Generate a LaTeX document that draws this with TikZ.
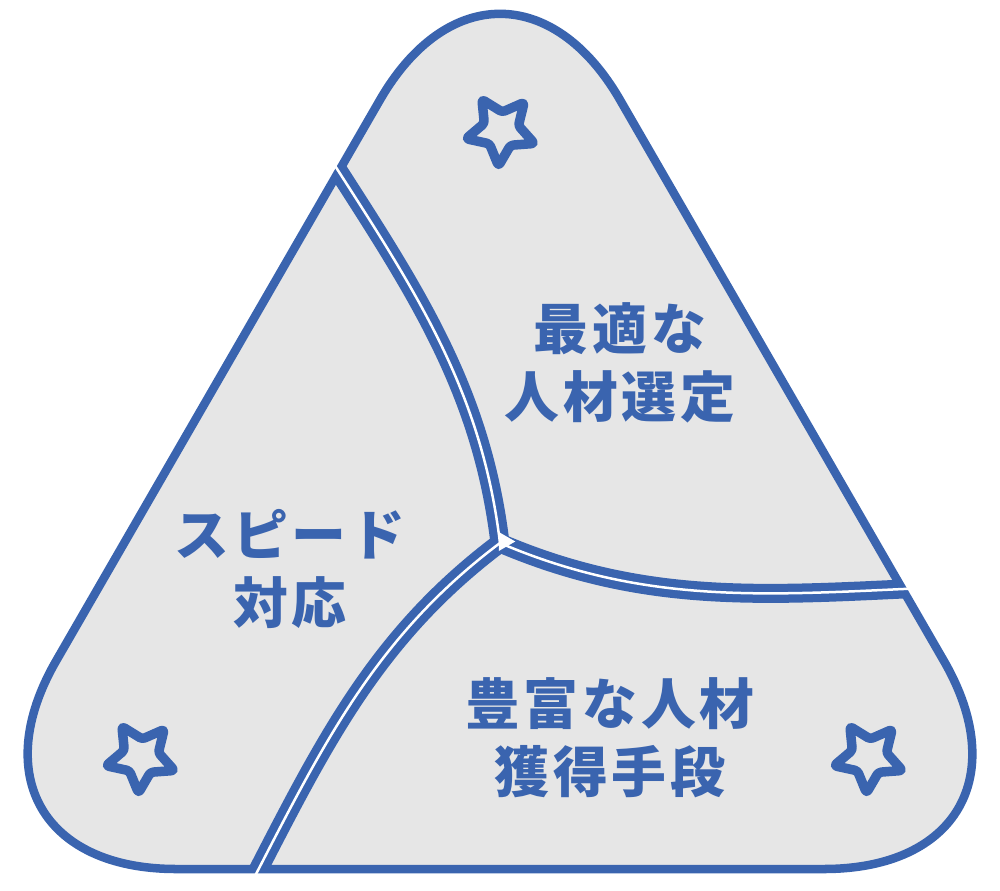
\documentclass[tikz,border=0pt]{standalone}
\usepackage{fontspec}
\newfontfamily\jpfont{Noto Sans CJK JP}[LetterSpace=7]
\usepackage{tikz}

\definecolor{deepblue}{RGB}{58,100,175}
\definecolor{panelgray}{RGB}{230,230,230}

\tikzset{
  outline/.style={draw=deepblue, line width=0.085cm, rounded corners=2.4cm},
  sepline/.style={draw=deepblue, line width=0.19cm, line cap=round},
  sepgap/.style={draw=white, line width=0.025cm},
  starline/.style={draw=deepblue, line width=0.095cm, line join=round, rounded corners=0.03cm},
  lbl/.style={text=deepblue, align=center, font=\jpfont\bfseries\fontsize{15.6pt}{19.4pt}\selectfont}
}

\begin{document}
\begin{tikzpicture}[x=0.01cm, y=0.01cm]
\useasboundingbox (0,0) rectangle (1000,890);

% Rounded triangle background
\path[fill=panelgray, rounded corners=2.4cm] (500,21) -- (1064,21) -- (500,998) -- (-64,21) -- cycle;

% Three curved dividers (blue band)
\begin{scope}
  \clip[rounded corners=2.4cm] (500,21) -- (1064,21) -- (500,998) -- (-64,21) -- cycle;
  \foreach \a in {0,-120,-240}
    \draw[sepline, rotate around={\a:(500,347)}] (331,731) -- (339,718) .. controls (420,592) and (482,495.5) .. (500,347);
\end{scope}

% Outer border
\draw[outline] (500,21) -- (1064,21) -- (500,998) -- (-64,21) -- cycle;

% Thin white gaps between the three regions
\foreach \a in {0,-120,-240}
  \draw[sepgap, rotate around={\a:(500,347)}] (325,740) -- (339,718) .. controls (420,592) and (482,495.5) .. (500,347);
\fill[white] (498.8,358) -- ++(-30:19) -- ++(-150:19) -- cycle;

% Stars in the corners
\foreach \cx/\cy in {501/760, 141/133, 869/133}
  \draw[starline, shift={(\cx,\cy)}] (122:36) \foreach \k in {1,...,9}{ -- ({122+36*\k}:{27+9*cos(180*\k)}) } -- cycle;

% Labels
\node[lbl] (select) at (620,527) {最適な\\人材選定};
\node[lbl] (speed) at (290,321) {スピード\\対応};
\node[lbl] (source) at (610,152) {豊富な人材\\獲得手段};
\end{tikzpicture}
\end{document}
